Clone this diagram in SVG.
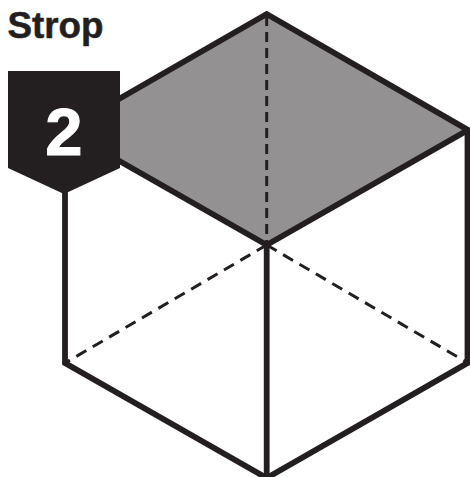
<svg xmlns="http://www.w3.org/2000/svg" width="470" height="477" viewBox="0 0 470 477">
<style>
.e{fill:none;stroke:#231f20;stroke-width:5.8;stroke-linejoin:miter}
.d{fill:none;stroke:#231f20;stroke-width:3}
text{font-family:"Liberation Sans",Arial,sans-serif;font-weight:bold}
</style>
<rect width="470" height="477" fill="#fff"/>
<g id="top-face"><polygon points="266.7,13.5 468,130 266.7,245 65,130" fill="#939192"/></g>
<g id="connectors">
<path class="d" stroke-dasharray="10 6" d="M266.7 16V243"/>
<path class="d" stroke-dasharray="11.5 7.5" d="M266.7 245L65 363"/>
<path class="d" stroke-dasharray="11.5 7.5" d="M266.7 245L468 363"/>
<path class="e" d="M65 130V363L266.7 478L467.5 363V130"/>
<path class="e" d="M266.7 245V478"/>
<path class="e" d="M65 130L266.7 14L468 130L266.7 245Z"/>
</g>
<g id="badge">
<polygon points="8,71 120,71 120,168 64,194 8,168" fill="#231f20"/>
<text x="64" y="155" font-size="67" text-anchor="middle" fill="#fff" stroke="#fff" stroke-width="1">2</text>
</g>
<g id="title"><text x="7.5" y="38" font-size="36.8" fill="#231f20" stroke="#231f20" stroke-width=".5">Strop</text></g>
</svg>
